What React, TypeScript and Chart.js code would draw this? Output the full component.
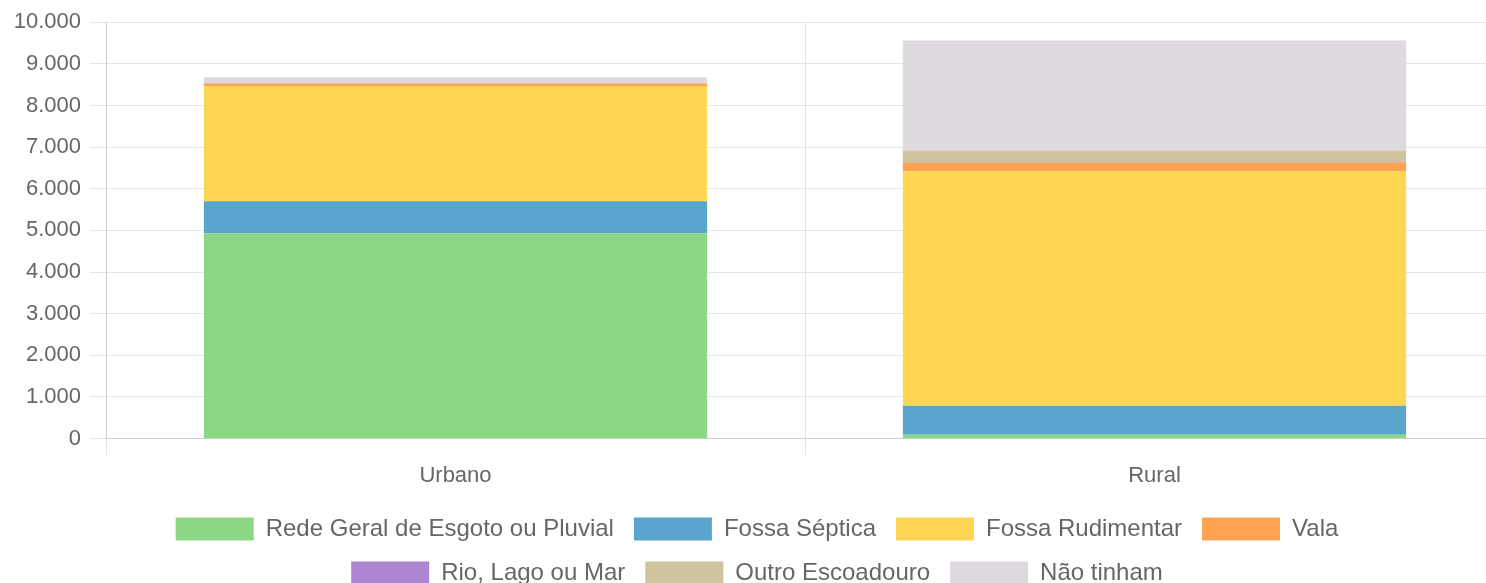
import React, { useEffect, useRef } from "react";
import { Chart, registerables } from "chart.js";

Chart.register(...registerables);

const categories = ["Urbano", "Rural"];
const seriesLabels = [
  "Rede Geral de Esgoto ou Pluvial",
  "Fossa Séptica",
  "Fossa Rudimentar",
  "Vala",
  "Rio, Lago ou Mar",
  "Outro Escoadouro",
  "Não tinham",
];
const redeGeral = [4930, 90];
const fossaSeptica = [770, 700];
const fossaRudimentar = [2770, 5630];
const vala = [50, 210];
const rioLagoMar = [5, 10];
const outroEscoadouro = [20, 280];
const naoTinham = [135, 2640];
const seriesColors = ["#8AD784", "#5AA5CE", "#FED653", "#FFA351", "#AE85D0", "#D0C49E", "#DEDAE0"];
const yTicksMax = 10000;
const yTicksStep = 1000;

const fmt = (v: number) => String(v).replace(/\B(?=(\d{3})+(?!\d))/g, ".");

export default function App() {
  const ref = useRef<HTMLCanvasElement | null>(null);
  useEffect(() => {
    if (!ref.current) return;
    const values = [redeGeral, fossaSeptica, fossaRudimentar, vala, rioLagoMar, outroEscoadouro, naoTinham];
    const chart = new Chart(ref.current, {
      type: "bar",
      data: {
        labels: categories,
        datasets: seriesLabels.map((label, i) => ({
          label,
          data: values[i],
          backgroundColor: seriesColors[i],
          borderWidth: 0,
        })),
      },
      options: {
        animation: false,
        responsive: false,
        devicePixelRatio: 1,
        layout: { padding: { left: 10, top: 16, right: 0, bottom: 0 } },
        font: { family: "Arial, 'Liberation Sans', sans-serif" },
        plugins: {
          legend: {
            position: "bottom",
            labels: {
              boxWidth: 78,
              boxHeight: 23,
              padding: 20,
              color: "#666",
              font: { size: 24, family: "Arial, 'Liberation Sans', sans-serif" },
            },
          },
          tooltip: { enabled: false },
        },
        scales: {
          x: {
            stacked: true,
            grid: { color: "rgba(0,0,0,0.1)", tickLength: 16, offset: true },
            ticks: { color: "#666", padding: 8, font: { size: 22, family: "Arial, 'Liberation Sans', sans-serif" } },
          },
          y: {
            stacked: true,
            min: 0,
            max: yTicksMax,
            afterFit: (scale: any) => {
              scale.width = 96;
            },
            grid: { color: "rgba(0,0,0,0.1)", tickLength: 16 },
            ticks: {
              stepSize: yTicksStep,
              color: "#666",
              padding: 9,
              font: { size: 22, family: "Arial, 'Liberation Sans', sans-serif" },
              callback: (v: any) => fmt(Number(v)),
            },
          },
        },
      },
    });
    return () => chart.destroy();
  }, []);
  return (
    <canvas
      ref={ref}
      width={1504}
      height={595}
      style={{ position: "fixed", left: 0, top: 0, width: 1504, height: 595, display: "block" }}
    />
  );
}
